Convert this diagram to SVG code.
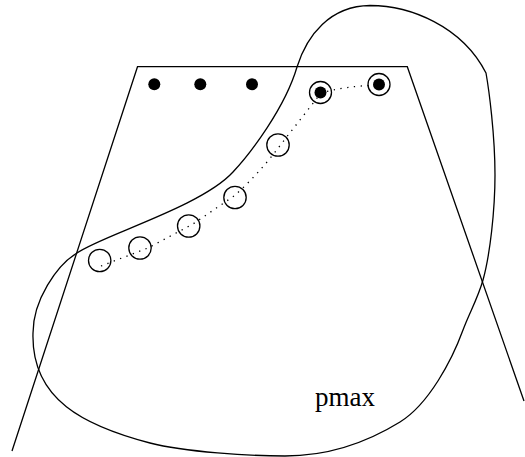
<svg xmlns="http://www.w3.org/2000/svg" width="525" height="457" viewBox="0 0 525 457">
<style>
.ln{fill:none;stroke:#000;stroke-width:1.3}
.dt{fill:#000}
.dl{fill:none;stroke:#000;stroke-width:1.3;stroke-dasharray:1.3 5.5}
.lbl{font-family:"Liberation Serif","Times New Roman",serif;font-size:27px;fill:#000}
</style>
<rect width="525" height="457" fill="#fff"/>
<g id="trapezoid">
<polyline class="ln" points="12,451 137.5,66.7 407.3,66.7 524,401"/>
</g>
<g id="blob">
<path class="ln" d="M370,5.5 C410,5.5 462,26 486,73 C489,90 495,135 495,175 C495,210 490,255 483,280 C478,298 469.3,313 463,330 C452,360 429,404 400,422 C368,441.8 330,456 285,456 C250,456 185,452 150,443 C85,426 31,400 33,333 C33,300 57,265 77,253 C100,236 201,207 233,172 C250,154 285,108 297,67 C307,35 330,6 370,5.5 Z"/>
</g>
<g id="connectors">
<path class="dl" d="M101,266 L148,248 L193,224 L234,196 Q259,174 282,143 L321,93 Q345,86 379,85"/>
</g>
<g id="dot1"><circle class="dt" cx="154.3" cy="84.3" r="6"/></g>
<g id="dot2"><circle class="dt" cx="200.3" cy="84.3" r="6"/></g>
<g id="dot3"><circle class="dt" cx="252" cy="84.3" r="6"/></g>
<g id="ring1"><circle class="ln" cx="320.5" cy="92.5" r="11"/><circle class="dt" cx="320.5" cy="92.5" r="6"/></g>
<g id="ring2"><circle class="ln" cx="379" cy="84.5" r="11"/><circle class="dt" cx="379" cy="84.5" r="6"/></g>
<g id="c1"><circle class="ln" cx="278" cy="145" r="11.2"/></g>
<g id="c2"><circle class="ln" cx="235" cy="197.5" r="11.2"/></g>
<g id="c3"><circle class="ln" cx="188.7" cy="226" r="11.2"/></g>
<g id="c4"><circle class="ln" cx="140" cy="248" r="11.2"/></g>
<g id="c5"><circle class="ln" cx="99.7" cy="260.5" r="11.2"/></g>
<g id="label"><text class="lbl" x="315" y="406">pmax</text></g>
</svg>
